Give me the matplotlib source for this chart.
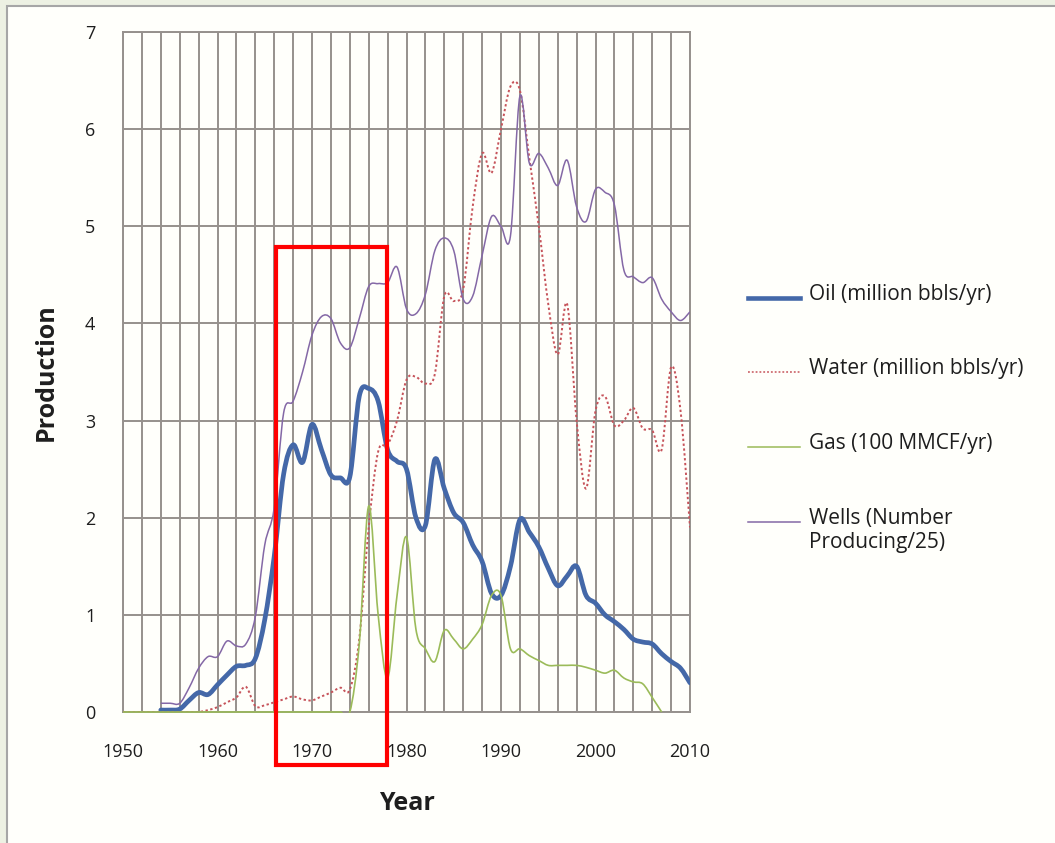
import numpy as np
import matplotlib
matplotlib.use("Agg")
import matplotlib.pyplot as plt
from matplotlib.path import Path
from matplotlib.patches import PathPatch, Rectangle
from matplotlib.lines import Line2D

plt.rcParams['font.family'] = ['Open Sans', 'DejaVu Sans']

# ---- annual production data ----
oil_years = list(range(1954, 2011))
oil = [0.02, 0.02, 0.03, 0.12, 0.20, 0.18, 0.28, 0.38, 0.47, 0.48,
       0.55, 0.95, 1.60, 2.45, 2.75, 2.57, 2.96, 2.70, 2.44, 2.41,
       2.42, 3.25, 3.33, 3.20, 2.70, 2.58, 2.50, 2.00, 1.92, 2.60,
       2.30, 2.05, 1.95, 1.72, 1.55, 1.22, 1.20, 1.50, 1.98, 1.85,
       1.70, 1.48, 1.30, 1.40, 1.50, 1.20, 1.12, 1.00, 0.93, 0.85,
       0.75, 0.72, 0.70, 0.60, 0.52, 0.45, 0.30]

water_years = list(range(1950, 2011))
water = [0.0, 0.0, 0.0, 0.0, 0.0, 0.0, 0.0, 0.0, 0.0, 0.02,
         0.05, 0.10, 0.15, 0.26, 0.06, 0.07, 0.10, 0.13, 0.16, 0.13,
         0.12, 0.16, 0.20, 0.25, 0.23, 0.75, 1.90, 2.68, 2.75, 3.00,
         3.42, 3.45, 3.38, 3.48, 4.28, 4.23, 4.35, 5.20, 5.75, 5.55,
         6.00, 6.44, 6.40, 5.70, 5.00, 4.20, 3.68, 4.20, 3.00, 2.30,
         3.10, 3.25, 2.95, 3.00, 3.13, 2.92, 2.90, 2.70, 3.55, 3.10,
         1.90]

gas_years = list(range(1950, 2008))
gas = [0.0] * 25 + [0.70, 2.12, 1.00, 0.35, 1.20, 1.80, 0.85, 0.65, 0.52,
                    0.84, 0.75, 0.65, 0.75, 0.90, 1.20, 1.20, 0.65, 0.65,
                    0.58, 0.53, 0.48, 0.48, 0.48, 0.48, 0.46, 0.43, 0.40,
                    0.43, 0.35, 0.31, 0.29, 0.15, 0.0]

wells_years = list(range(1954, 2011))
wells = [0.09, 0.09, 0.09, 0.25, 0.45, 0.57, 0.57, 0.73, 0.68, 0.70,
         0.98, 1.72, 2.10, 3.08, 3.20, 3.50, 3.88, 4.07, 4.05, 3.80,
         3.75, 4.05, 4.38, 4.41, 4.42, 4.58, 4.15, 4.10, 4.30, 4.75,
         4.88, 4.75, 4.25, 4.28, 4.70, 5.10, 5.00, 4.90, 6.34, 5.65,
         5.75, 5.60, 5.42, 5.68, 5.20, 5.05, 5.38, 5.35, 5.22, 4.55,
         4.48, 4.42, 4.47, 4.25, 4.12, 4.03, 4.12]

series_labels = ["Oil (million bbls/yr)", "Water (million bbls/yr)",
                 "Gas (100 MMCF/yr)", "Wells (Number\nProducing/25)"]

x_ticks = [1950, 1960, 1970, 1980, 1990, 2000, 2010]
y_ticks = list(range(0, 8))
highlight_years = (1966.2, 1977.9)
highlight_values = (-0.55, 4.79)

# ---- styling ----
c_oil = "#4468A8"
c_water = "#C6535A"
c_gas = "#9BBB59"
c_wells = "#8468A6"
c_grid = "#96918D"
c_text = "#1E1E1E"
W, H = 1055, 843


def smooth_path(x, y):
    """Smoothed (Catmull-Rom style) Bezier path through the data points."""
    pts = np.column_stack([np.asarray(x, float), np.asarray(y, float)])
    n = len(pts)
    verts = [pts[0]]
    codes = [Path.MOVETO]
    for i in range(n - 1):
        p0 = pts[i - 1] if i > 0 else pts[i]
        p1, p2 = pts[i], pts[i + 1]
        p3 = pts[i + 2] if i + 2 < n else pts[i + 1]
        verts += [p1 + (p2 - p0) / 6.0, p2 - (p3 - p1) / 6.0, p2]
        codes += [Path.CURVE4] * 3
    return Path(verts, codes)


fig = plt.figure(figsize=(W / 100, H / 100), dpi=100)
fig.patch.set_facecolor("#EDF1E3")

# white panel with grey border, running off the right and bottom edges
panel = Rectangle((7 / W, -0.2), 1.2, 1.2 - 6 / H, transform=fig.transFigure,
                  facecolor="#FFFFFB", edgecolor="#A6A6A6", linewidth=1.5,
                  zorder=0)
fig.add_artist(panel)

ax = fig.add_axes([123 / W, 1 - 712 / H, (690 - 123) / W, (712 - 32) / H])
ax.set_facecolor("none")
ax.set_xlim(1950, 2010)
ax.set_ylim(0, 7)

ax.set_xticks(np.arange(1950, 2011, 2), minor=True)
ax.set_xticks(x_ticks)
ax.set_xticklabels([str(t) for t in x_ticks], fontsize=13, color=c_text)
ax.set_yticks(y_ticks)
ax.set_yticklabels([str(t) for t in y_ticks], fontsize=13, color=c_text)
ax.tick_params(axis="both", which="both", length=0)
ax.tick_params(axis="x", pad=22)
ax.tick_params(axis="y", pad=20)
ax.grid(True, which="both", axis="x", color=c_grid, linewidth=1.4)
ax.grid(True, which="major", axis="y", color=c_grid, linewidth=1.4)
ax.set_axisbelow(True)
for s in ax.spines.values():
    s.set_color(c_grid)
    s.set_linewidth(1.4)

ax.set_xlabel("Year", fontsize=18, fontweight="bold", labelpad=22, color=c_text)
ax.set_ylabel("Production", fontsize=18, fontweight="bold", labelpad=19, color=c_text)

ax.add_patch(PathPatch(smooth_path(oil_years, oil), fill=False, edgecolor=c_oil,
                       linewidth=3.4, capstyle="round", joinstyle="round", zorder=3))
ax.add_patch(PathPatch(smooth_path(water_years, water), fill=False, edgecolor=c_water,
                       linewidth=1.4, linestyle=(0, (1.2, 1.3)), zorder=4))
gas_patch = PathPatch(smooth_path(gas_years, gas), fill=False, edgecolor=c_gas,
                      linewidth=1.2, zorder=5)
ax.add_patch(gas_patch)
# let the zero-level gas line sit fully on the axis line
gas_patch.set_clip_path(Rectangle((1950, -0.012), 60, 8, transform=ax.transData))
ax.add_patch(PathPatch(smooth_path(wells_years, wells), fill=False, edgecolor=c_wells,
                       linewidth=1.1, zorder=6))

# highlighted period
ax.add_patch(Rectangle((highlight_years[0], highlight_values[0]),
                       highlight_years[1] - highlight_years[0],
                       highlight_values[1] - highlight_values[0],
                       fill=False, edgecolor="#FF0000", linewidth=3.0,
                       clip_on=False, zorder=10))

# legend at the right
legend_styles = [
    dict(color=c_oil, linewidth=3.3),
    dict(color=c_water, linewidth=1.1, linestyle=(0, (1.2, 1.3))),
    dict(color=c_gas, linewidth=1.1),
    dict(color=c_wells, linewidth=1.1),
]
legend_rows = [298, 372, 447, 522]
for label, style, yp in zip(series_labels, legend_styles, legend_rows):
    yf = 1 - yp / H
    fig.add_artist(Line2D([748 / W, 800 / W], [yf, yf], transform=fig.transFigure,
                          **style))
    fig.text(809 / W, yf + 14 / H, label, fontsize=15, color=c_text, va="top",
             ha="left", linespacing=1.2, transform=fig.transFigure)

fig.savefig("out.png", dpi=100, facecolor=fig.get_facecolor())
